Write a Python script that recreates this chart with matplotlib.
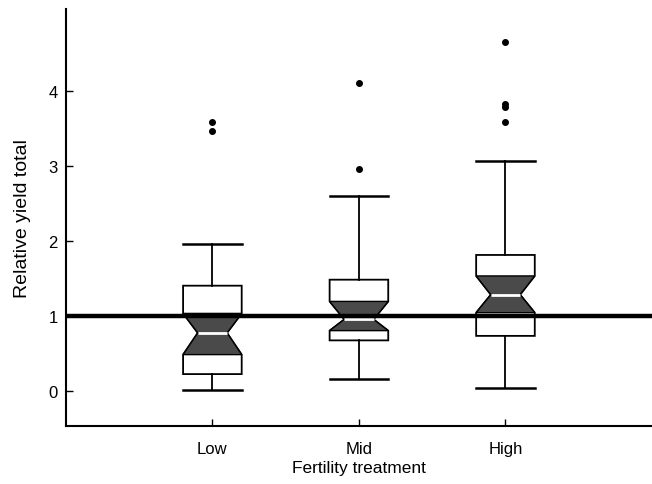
import matplotlib
matplotlib.use("Agg")
import matplotlib.pyplot as plt
from matplotlib.patches import Polygon

plt.rcParams['font.family'] = ['Liberation Sans', 'DejaVu Sans']

categories = ["Low", "Mid", "High"]
whisker_lo = [0.01, 0.15, 0.03]
q1 = [0.22, 0.67, 0.73]
notch_lo = [0.48, 0.80, 1.04]
median = [0.77, 0.95, 1.28]
notch_hi = [1.03, 1.19, 1.53]
q3 = [1.40, 1.48, 1.81]
whisker_hi = [1.95, 2.60, 3.07]
outliers = [[3.47, 3.59], [2.96, 4.10], [3.58, 3.78, 3.82, 4.65]]
reference_line = 1.0

positions = [1, 2, 3]
box_width = 0.40

fig = plt.figure(figsize=(6.52, 4.85), dpi=100)
ax = fig.add_axes([0.101, 0.12, 0.899, 0.859])

stats = []
for i, c in enumerate(categories):
    stats.append(dict(label=c, whislo=whisker_lo[i], q1=q1[i], med=median[i],
                      q3=q3[i], whishi=whisker_hi[i], cilo=notch_lo[i],
                      cihi=notch_hi[i], fliers=outliers[i]))

ax.bxp(stats, positions=positions, widths=box_width, shownotches=True,
       patch_artist=True, capwidths=box_width,
       boxprops=dict(facecolor='white', edgecolor='black', linewidth=1.3),
       whiskerprops=dict(color='black', linewidth=1.3),
       capprops=dict(color='black', linewidth=1.8),
       medianprops=dict(color='white', linewidth=2.0, zorder=4),
       flierprops=dict(marker='o', markerfacecolor='black',
                       markeredgecolor='black', markersize=4),
       manage_ticks=False)

# shade the notch region
for i, p in enumerate(positions):
    hw = box_width / 2
    nw = box_width / 4
    poly = [(p - hw, notch_hi[i]), (p + hw, notch_hi[i]),
            (p + nw, median[i]), (p + hw, notch_lo[i]),
            (p - hw, notch_lo[i]), (p - nw, median[i])]
    ax.add_patch(Polygon(poly, closed=True, facecolor='#4a4a4a',
                         edgecolor='black', linewidth=1.0, zorder=3))

ax.axhline(reference_line, color='black', linewidth=3.2, zorder=5)

ax.set_xlim(0, 4)
ax.set_ylim(-0.47, 5.09)
ax.set_xticks(positions)
ax.set_xticklabels(categories)
ax.set_yticks([0, 1, 2, 3, 4])
ax.tick_params(direction='in', length=5, width=1, labelsize=12)
ax.tick_params(axis='x', pad=11)
ax.tick_params(axis='y', pad=6)

for s in ['top', 'right']:
    ax.spines[s].set_visible(False)
for s in ['left', 'bottom']:
    ax.spines[s].set_linewidth(1.5)

ax.set_xlabel("Fertility treatment", fontsize=12.5, labelpad=3)
ax.set_ylabel("Relative yield total", fontsize=14, labelpad=12)

fig.savefig("out.png", dpi=100)
